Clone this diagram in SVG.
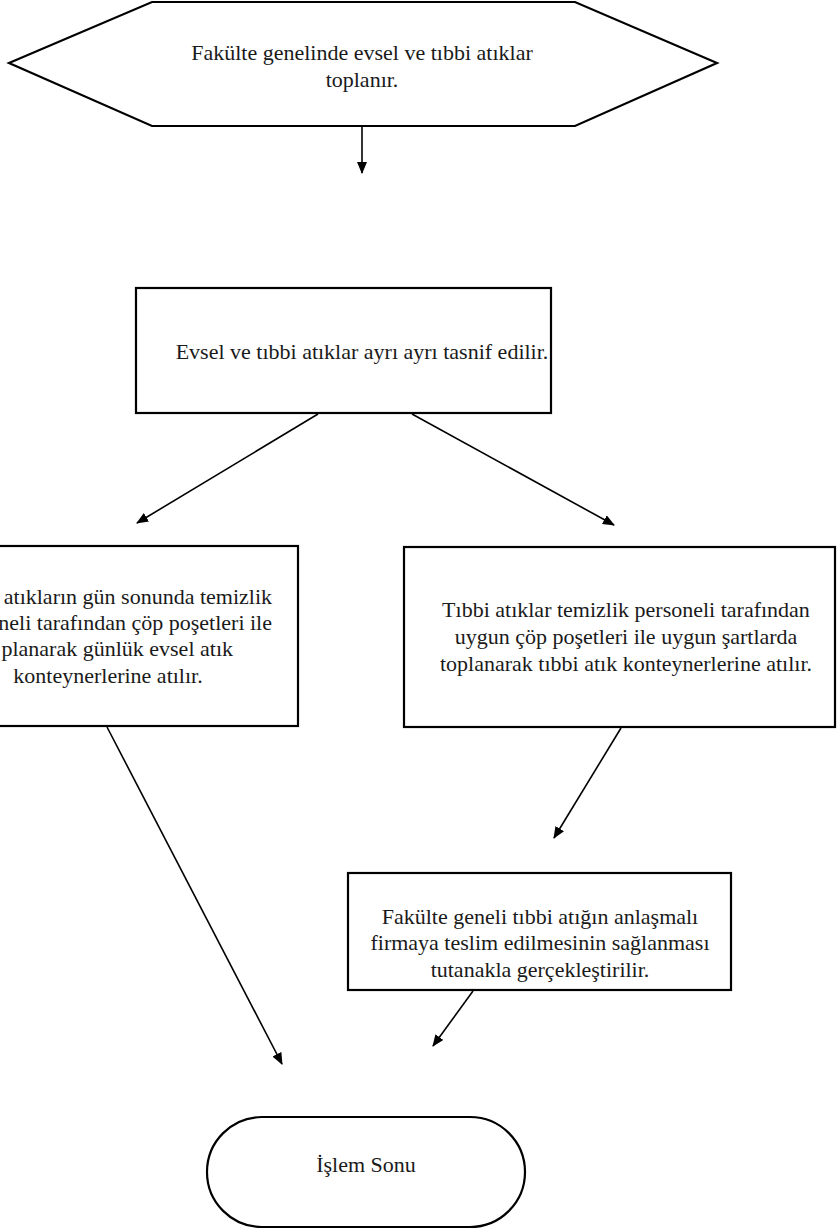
<svg xmlns="http://www.w3.org/2000/svg" width="837" height="1232" viewBox="0 0 837 1232">
<style>
.shape{fill:#fff;stroke:#000;stroke-width:2.2}
text{font-family:'Liberation Serif',serif;font-size:22px;fill:#1a1a1a}
.t{text-anchor:middle}
.te{text-anchor:end}
.c{stroke:#000;stroke-width:1.6;fill:none;marker-end:url(#ah)}
</style>
<defs>
<marker id="ah" viewBox="0 0 12 10" refX="11" refY="5" markerWidth="12" markerHeight="10" markerUnits="userSpaceOnUse" orient="auto">
<path d="M0,0 L12,5 L0,10 Z" fill="#000"/>
</marker>
</defs>
<rect width="837" height="1232" fill="#fff"/>
<g id="n1">
<polygon class="shape" points="152,2 575,2 717,63 575,126 152,126 9,63"/>
<text class="t" x="362" y="60">Fakülte genelinde evsel ve tıbbi atıklar</text>
<text class="t" x="362" y="87">toplanır.</text>
</g>
<g id="n2">
<rect class="shape" x="136" y="288" width="415" height="125"/>
<text class="t" x="362" y="359">Evsel ve tıbbi atıklar ayrı ayrı tasnif edilir.</text>
</g>
<g id="n3">
<rect class="shape" x="-10" y="546" width="308" height="180"/>
<text class="te" x="272" y="604">atıkların gün sonunda temizlik</text>
<text class="te" x="272" y="630">neli tarafından çöp poşetleri ile</text>
<text class="te" x="233" y="656">planarak günlük evsel atık</text>
<text class="t" x="108" y="683">konteynerlerine atılır.</text>
</g>
<g id="n4">
<rect class="shape" x="404" y="547" width="431" height="180"/>
<text class="t" x="626" y="617">Tıbbi atıklar temizlik personeli tarafından</text>
<text class="t" x="626" y="644">uygun çöp poşetleri ile uygun şartlarda</text>
<text class="t" x="626" y="671">toplanarak tıbbi atık konteynerlerine atılır.</text>
</g>
<g id="n5">
<rect class="shape" x="348" y="873" width="383" height="117"/>
<text class="t" x="540" y="924">Fakülte geneli tıbbi atığın anlaşmalı</text>
<text class="t" x="540" y="950">firmaya teslim edilmesinin sağlanması</text>
<text class="t" x="540" y="977">tutanakla gerçekleştirilir.</text>
</g>
<g id="n6">
<rect class="shape" x="207" y="1117" width="318" height="110" rx="55" ry="55"/>
<text class="t" x="366" y="1172">İşlem Sonu</text>
</g>
<g id="connectors">
<line class="c" x1="362" y1="127" x2="362" y2="173"/>
<line class="c" x1="318" y1="414" x2="137" y2="523"/>
<line class="c" x1="412" y1="414" x2="614" y2="525"/>
<line class="c" x1="621" y1="728" x2="554" y2="838"/>
<line class="c" x1="107" y1="727" x2="282" y2="1064"/>
<line class="c" x1="473" y1="991" x2="433" y2="1046"/>
</g>
</svg>
